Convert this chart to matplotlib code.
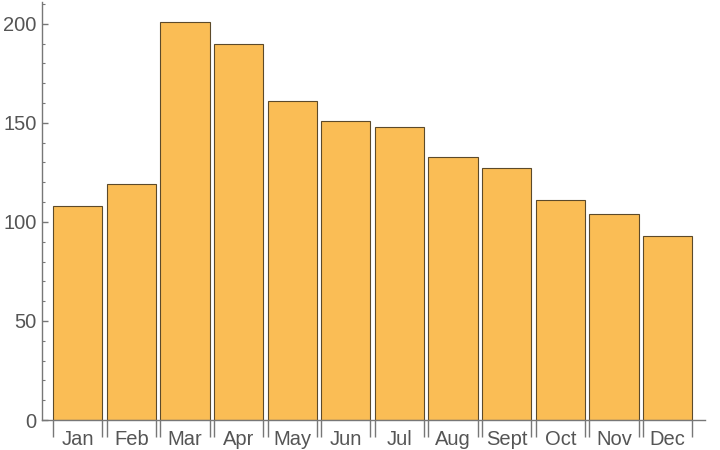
import matplotlib
matplotlib.use('Agg')
import matplotlib.pyplot as plt
import numpy as np
from matplotlib.ticker import MultipleLocator

months = ['Jan', 'Feb', 'Mar', 'Apr', 'May', 'Jun',
          'Jul', 'Aug', 'Sept', 'Oct', 'Nov', 'Dec']
values = [108, 119, 201, 190, 161, 151, 148, 133, 127, 111, 104, 93]

plt.rcParams['font.family'] = ['Liberation Sans', 'DejaVu Sans']

fig = plt.figure(figsize=(7.2, 4.5), dpi=100)
ax = fig.add_axes([42 / 720, 30 / 450, 663 / 720, 418 / 450])

x = np.arange(len(months))
width = 0.92
ax.bar(x, values, width=width, color='#FABD55', edgecolor='#5C4A2A',
       linewidth=0.8, zorder=2)

ax.set_xlim(-0.667, 11.70)
ax.set_ylim(0, 211)

# ticks at both edges of every bar, labels centred
edges = np.concatenate([x - width / 2, x + width / 2])
ax.set_xticks(edges)
ax.set_xticklabels([])
ax.set_xticks(x, minor=True)
ax.set_xticklabels(months, minor=True)
ax.tick_params(axis='x', which='major', direction='out', length=12,
               width=1, color='#777777')
ax.tick_params(axis='x', which='minor', length=0, pad=7.5,
               labelsize=14.5, labelcolor='#555555')

ax.yaxis.set_major_locator(MultipleLocator(50))
ax.yaxis.set_minor_locator(MultipleLocator(10))
ax.tick_params(axis='y', which='major', direction='in', length=4,
               width=1, color='#777777', labelsize=14.5, labelcolor='#555555',
               pad=4)
ax.tick_params(axis='y', which='minor', direction='in', length=2.5,
               width=0.8, color='#777777')

for side in ['top', 'right']:
    ax.spines[side].set_visible(False)
for side in ['left', 'bottom']:
    ax.spines[side].set_color('#777777')
    ax.spines[side].set_linewidth(1)

fig.savefig('out.png', dpi=100)
